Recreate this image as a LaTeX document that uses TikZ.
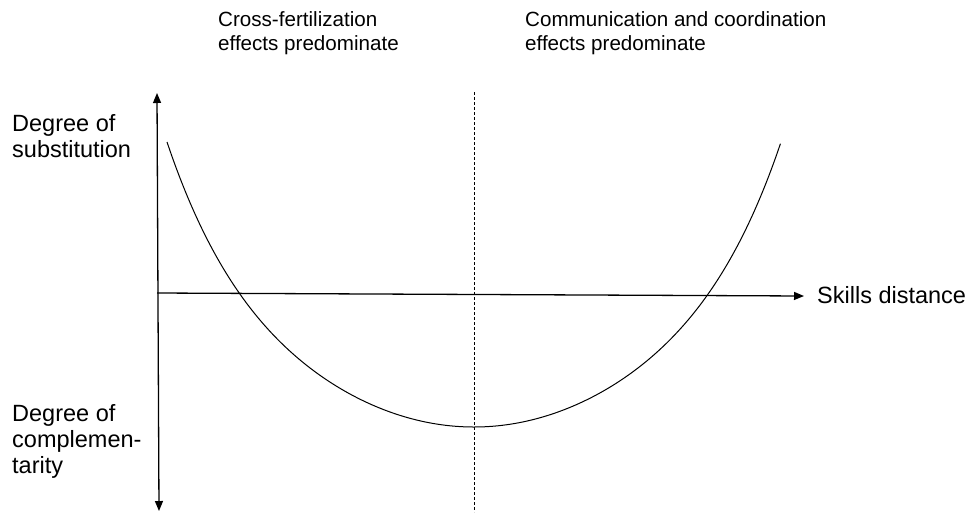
\documentclass[tikz,border=0pt]{standalone}
\usepackage{fontspec}
\setmainfont{Liberation Sans}
\usetikzlibrary{arrows.meta}
\begin{document}
\begin{tikzpicture}[x=1pt,y=-1pt,
  tip/.tip={Triangle[length=10pt,width=8pt]},
  axisline/.style={line width=1.3pt},
  biglabel/.style={anchor=base west,inner sep=0pt,font=\fontsize{23.5}{26}\selectfont},
  toplabel/.style={anchor=base west,inner sep=0pt,font=\fontsize{20.6}{24}\selectfont},
  curveline/.style={line width=1pt},
  divider/.style={line width=0.9pt,dash pattern=on 3pt off 2pt}]
\useasboundingbox (0,0) rectangle (971,512);
% axes
\coordinate (vtop) at (157,93);
\coordinate (vbot) at (159,511);
\coordinate (hstart) at (157,293);
\coordinate (hend) at (804,296);
\coordinate (dtop) at (474,92);
\coordinate (dbot) at (474,512);
\draw[axisline,tip-tip] (vbot) -- (vtop);
\draw[axisline,-tip] (hstart) -- (hend);
% divider
\draw[divider] (dtop) -- (dbot);
% curve
\draw[curveline] plot[domain=-1:1,samples=151,smooth] ({474+307*\x},{427-200*\x*\x-85*(\x*\x)^3});
% labels
\node[biglabel] (sub1) at (12,131) {Degree of};
\node[biglabel] (sub2) at (12,157) {substitution};
\node[biglabel] (comp1) at (12,421) {Degree of};
\node[biglabel] (comp2) at (12,447) {complemen-};
\node[biglabel] (comp3) at (12,473) {tarity};
\node[biglabel] (skills) at (817,303) {Skills distance};
\node[toplabel] (cf1) at (218,26) {Cross-fertilization};
\node[toplabel] (cf2) at (218,50) {effects predominate};
\node[toplabel] (cc1) at (525,26) {Communication and coordination};
\node[toplabel] (cc2) at (525,50) {effects predominate};
\end{tikzpicture}
\end{document}
